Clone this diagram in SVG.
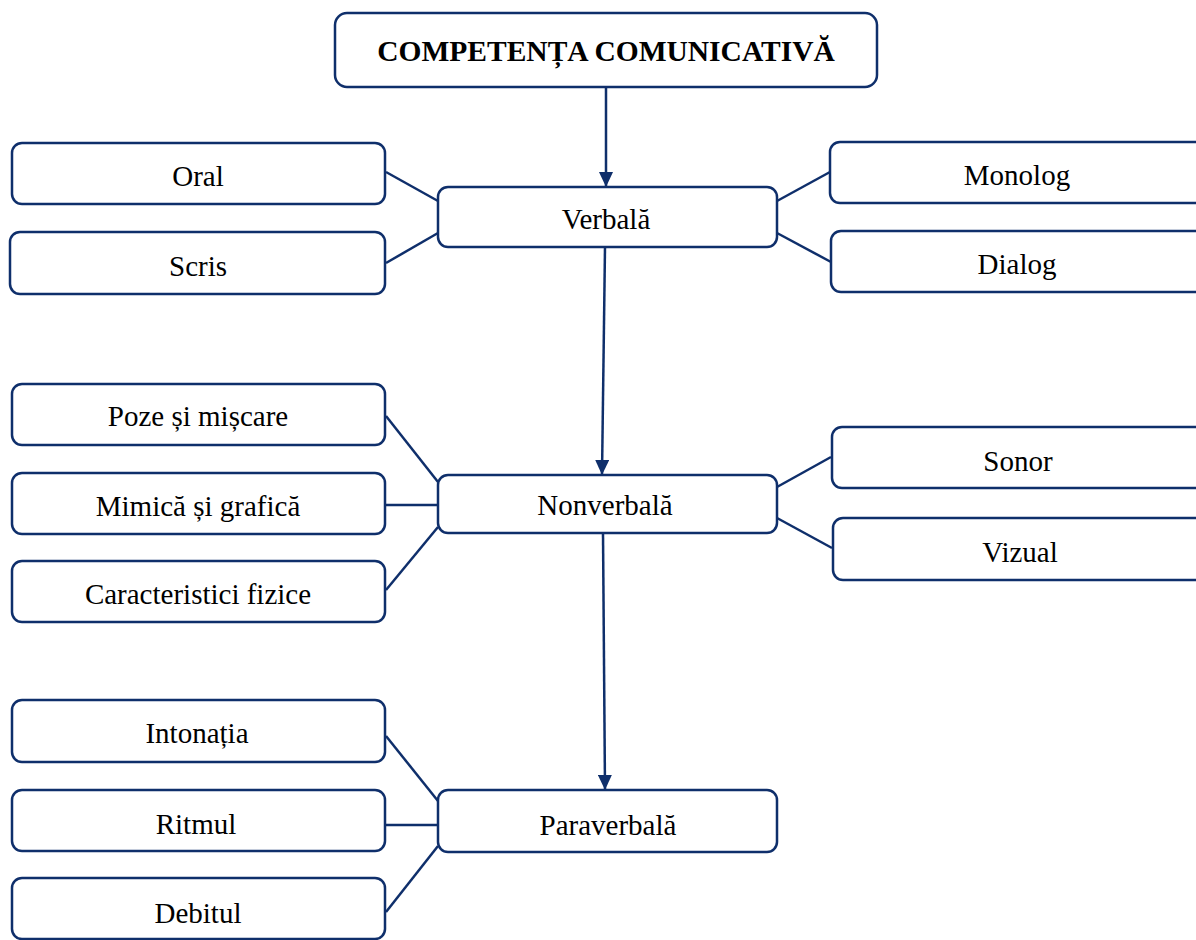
<svg xmlns="http://www.w3.org/2000/svg" width="1196" height="940" viewBox="0 0 1196 940">
<defs>
<style>
.box{fill:#fff;stroke:#0f2f6b;stroke-width:2.5}
.t{font-family:"Liberation Serif","Times New Roman",serif;font-size:29px;fill:#000;text-anchor:middle}
.b{font-weight:bold;font-size:29.5px}
.c{stroke:#0f2f6b;stroke-width:2.5;fill:none}
</style>
<marker id="ah2" markerWidth="15" markerHeight="14" refX="15" refY="7" orient="auto" markerUnits="userSpaceOnUse" viewBox="0 0 15 14">
<path d="M0,0 L15,7 L0,14 Z" fill="#0f2f6b"/>
</marker>
</defs>
<rect width="1196" height="940" fill="#fff"/>
<g id="connectors">
<line class="c" x1="606" y1="87" x2="606" y2="187" marker-end="url(#ah2)"/>
<line class="c" x1="605" y1="247" x2="602" y2="475" marker-end="url(#ah2)"/>
<line class="c" x1="603" y1="533" x2="605" y2="790" marker-end="url(#ah2)"/>
<line class="c" x1="386" y1="172" x2="438" y2="201"/>
<line class="c" x1="386" y1="263" x2="438" y2="233"/>
<line class="c" x1="830" y1="172" x2="777" y2="201"/>
<line class="c" x1="831" y1="262" x2="777" y2="233"/>
<line class="c" x1="386" y1="416" x2="438" y2="482"/>
<line class="c" x1="386" y1="505" x2="438" y2="505"/>
<line class="c" x1="386" y1="590" x2="438" y2="527"/>
<line class="c" x1="777" y1="487" x2="831" y2="457"/>
<line class="c" x1="777" y1="518" x2="832" y2="548"/>
<line class="c" x1="386" y1="736" x2="438" y2="801"/>
<line class="c" x1="386" y1="825" x2="438" y2="825"/>
<line class="c" x1="386" y1="912" x2="438" y2="846"/>
</g>
<g id="n-competenta"><rect class="box" x="335" y="13" width="542" height="74" rx="12"/><text class="t b" x="606" y="61">COMPETENȚA COMUNICATIVĂ</text></g>
<g id="n-verbala"><rect class="box" x="438" y="187" width="339" height="60" rx="10"/><text class="t" x="606" y="229">Verbală</text></g>
<g id="n-oral"><rect class="box" x="12" y="143" width="373" height="61" rx="10"/><text class="t" x="198" y="186">Oral</text></g>
<g id="n-scris"><rect class="box" x="10" y="232" width="375" height="62" rx="10"/><text class="t" x="198" y="276">Scris</text></g>
<g id="n-monolog"><rect class="box" x="830" y="142" width="380" height="61" rx="10"/><text class="t" x="1017" y="185">Monolog</text></g>
<g id="n-dialog"><rect class="box" x="831" y="231" width="380" height="61" rx="10"/><text class="t" x="1017" y="274">Dialog</text></g>
<g id="n-nonverbala"><rect class="box" x="438" y="475" width="339" height="58" rx="10"/><text class="t" x="605" y="515">Nonverbală</text></g>
<g id="n-poze"><rect class="box" x="12" y="384" width="373" height="61" rx="10"/><text class="t" x="198" y="426">Poze și mișcare</text></g>
<g id="n-mimica"><rect class="box" x="12" y="473" width="373" height="61" rx="10"/><text class="t" x="198" y="516">Mimică și grafică</text></g>
<g id="n-caracteristici"><rect class="box" x="12" y="561" width="373" height="61" rx="10"/><text class="t" x="198" y="604">Caracteristici fizice</text></g>
<g id="n-sonor"><rect class="box" x="832" y="427" width="380" height="61" rx="10"/><text class="t" x="1018" y="471">Sonor</text></g>
<g id="n-vizual"><rect class="box" x="833" y="518" width="380" height="62" rx="10"/><text class="t" x="1020" y="562">Vizual</text></g>
<g id="n-paraverbala"><rect class="box" x="438" y="790" width="339" height="62" rx="10"/><text class="t" x="608" y="835">Paraverbală</text></g>
<g id="n-intonatia"><rect class="box" x="12" y="700" width="373" height="62" rx="10"/><text class="t" x="197" y="743">Intonația</text></g>
<g id="n-ritmul"><rect class="box" x="12" y="790" width="373" height="61" rx="10"/><text class="t" x="196" y="834">Ritmul</text></g>
<g id="n-debitul"><rect class="box" x="12" y="878" width="373" height="61" rx="10"/><text class="t" x="198" y="923">Debitul</text></g>
</svg>
